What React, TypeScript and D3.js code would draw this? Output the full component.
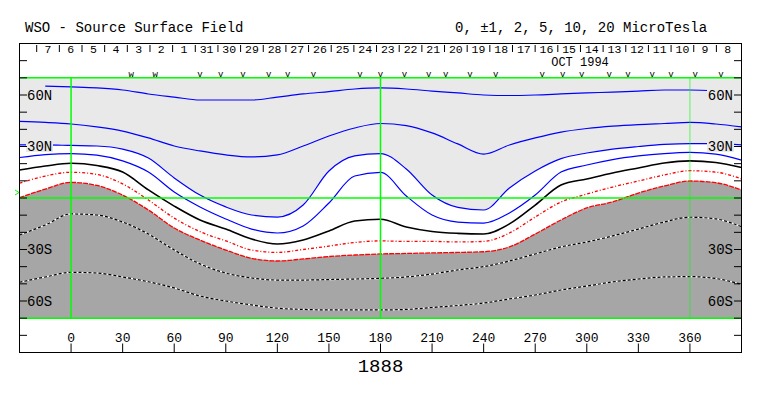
import React from 'react';
import * as d3 from 'd3';

// Carrington longitude samples (deg)
const lons = [-30, -15, 0, 15, 30, 45, 60, 75, 90, 105, 120, 135, 150, 165, 180, 195, 210, 225, 240, 255, 270, 285, 300, 315, 330, 345, 360, 375, 390];

// contour latitudes (deg)
const blue20: (number | null)[] = [null, 65.2, 64.7, 64.1, 62.9, 60.6, 58.8, 57.1, 57.1, 57.1, 58.8, 60.6, 62.0, 63.5, 64.1, 63.5, 62.3, 61.2, 60.0, 59.7, 60.0, 60.6, 61.2, 61.7, 62.3, 62.9, 62.9, 62.3, null];
const blue10 = [44.6, 44.0, 43.1, 41.4, 39.0, 35.0, 30.3, 27.4, 25.1, 23.9, 25.1, 30.3, 36.1, 40.8, 43.4, 42.2, 37.9, 31.5, 25.6, 30.9, 35.0, 38.4, 40.5, 41.9, 42.8, 43.4, 44.0, 43.1, 41.4];
const blue5 = [30.9, 30.9, 30.6, 30.3, 28.5, 23.3, 11.7, 1.7, -5.2, -9.9, -11.1, -4.1, 15.7, 24.5, 25.9, 16.9, 1.7, -5.5, -7.0, 5.8, 15.7, 22.9, 26.2, 28.5, 30.0, 31.2, 31.7, 31.7, 30.9];
const blue2 = [23.6, 25.3, 25.9, 25.0, 21.6, 15.1, 3.5, -5.2, -12.2, -18.1, -20.4, -16.3, -2.9, 12.8, 14.9, 1.2, -9.9, -14.0, -14.6, -8.7, 1.7, 15.1, 19.2, 22.4, 24.5, 25.9, 26.6, 25.6, 22.1];
const neutral = [16.3, 18.6, 20.2, 18.9, 15.1, 4.7, -4.7, -12.8, -18.1, -23.9, -26.8, -24.5, -19.2, -13.4, -12.4, -16.9, -19.5, -20.6, -21.0, -15.1, -4.1, 7.6, 11.1, 14.6, 17.5, 20.4, 21.6, 20.7, 17.8];
const red1 = [8.6, 12.8, 15.0, 13.7, 8.2, -1.2, -11.7, -19.6, -25.0, -30.3, -31.7, -30.0, -28.0, -25.9, -25.0, -25.3, -25.3, -25.6, -25.3, -20.4, -11.1, -2.3, 2.3, 6.4, 9.9, 13.4, 15.9, 15.1, 11.1];
const red2 = [0.2, 5.2, 9.1, 7.3, 1.7, -7.0, -17.5, -24.5, -30.3, -35.1, -36.7, -35.5, -34.1, -33.2, -32.6, -32.3, -32.0, -31.7, -31.3, -28.5, -21.0, -12.8, -5.8, -2.3, 2.9, 7.0, 9.9, 8.9, 4.7];
const neg10 = [-21.6, -15.7, -9.3, -9.9, -14.0, -21.0, -30.3, -38.4, -43.7, -46.6, -47.8, -47.8, -47.5, -47.2, -46.8, -46.0, -44.3, -41.9, -40.0, -36.7, -32.6, -28.5, -25.6, -22.1, -18.1, -14.0, -11.2, -12.2, -16.7];
const neg20 = [-49.1, -46.0, -43.3, -43.7, -46.0, -48.8, -52.4, -57.1, -60.0, -62.3, -64.2, -64.9, -65.2, -65.2, -65.2, -64.9, -63.8, -62.6, -61.2, -58.8, -56.5, -53.6, -51.3, -48.9, -47.2, -46.0, -45.8, -46.9, -50.3];

const xTicks = [0, 30, 60, 90, 120, 150, 180, 210, 240, 270, 300, 330, 360];
const latTicks = [-80, -70, -60, -50, -40, -30, -20, -10, 0, 10, 20, 30, 40, 50, 60, 70, 80];
const latLabels = [
  { lat: 60, text: '60N' },
  { lat: 30, text: '30N' },
  { lat: -30, text: '30S' },
  { lat: -60, text: '60S' },
];
const dayLabels = ['7', '6', '5', '4', '3', '2', '1', '31', '30', '29', '28', '27', '26', '25', '24', '23', '22', '21', '20', '19', '18', '17', '16', '15', '14', '13', '12', '11', '10', '9', '8'];
const dayStartLon = -20.0;
const dayStepLon = 13.18;
const wMarks = [35, 49];
const vMarks = [75, 87, 100, 115, 126, 141, 168, 180, 194, 208, 218, 232, 247, 274, 286, 297, 313, 324, 338, 349, 363, 378];

const FONT = '"Liberation Mono", "DejaVu Sans Mono", monospace';

export default function App() {
  const x = d3.scaleLinear().domain([-30, 390]).range([19.5, 741.5]);
  const y = d3.scaleLinear().domain([90, -90]).range([43.5, 352.5]);
  const curve = d3.curveMonotoneX;

  const mk = (vals: (number | null)[]) =>
    lons.map((l, i) => [l, vals[i]] as [number, number | null]);

  const line = d3
    .line<[number, number | null]>()
    .defined((d) => d[1] != null)
    .x((d) => x(d[0]))
    .y((d) => y(d[1] as number))
    .curve(curve);

  const areaBelow = d3
    .area<[number, number | null]>()
    .x((d) => x(d[0]))
    .y0(y(-70))
    .y1((d) => y(d[1] as number))
    .curve(curve);

  const px0 = x(-30), px1 = x(390);
  const pyTop = y(70), pyBot = y(-70);
  const green = '#00ff00';

  return (
    <svg width={763} height={396} style={{ position: 'absolute', left: 0, top: 0, background: '#fff' }}>
      <defs>
        <clipPath id="plot">
          <rect x={px0} y={pyTop} width={px1 - px0} height={pyBot - pyTop} />
        </clipPath>
      </defs>
      <rect x={0} y={0} width={763} height={396} fill="#fff" />
      {/* titles */}
      <text x={25} y={32} fontFamily={FONT} fontSize={14} fill="#000">WSO - Source Surface Field</text>
      <text x={455} y={32} fontFamily={FONT} fontSize={14} fill="#000">0, ±1, 2, 5, 10, 20 MicroTesla</text>

      {/* plot backgrounds */}
      <g clipPath="url(#plot)">
        <rect x={px0} y={pyTop} width={px1 - px0} height={pyBot - pyTop} fill="#e9e9e9" />
        <path d={areaBelow(mk(blue5)) || ''} fill="#ffffff" />
        <path d={areaBelow(mk(red2)) || ''} fill="#a6a6a6" />

        <path d={line(mk(blue20)) || ''} fill="none" stroke="#0000ff" strokeWidth={1.2} />
        <path d={line(mk(blue10)) || ''} fill="none" stroke="#0000ff" strokeWidth={1.2} />
        <path d={line(mk(blue5)) || ''} fill="none" stroke="#0000ff" strokeWidth={1.2} />
        <path d={line(mk(blue2)) || ''} fill="none" stroke="#0000ff" strokeWidth={1.2} />
        <path d={line(mk(neutral)) || ''} fill="none" stroke="#000" strokeWidth={1.6} />
        <path d={line(mk(red1)) || ''} fill="none" stroke="#ff0000" strokeWidth={1.3} strokeDasharray="3,2,1,2" />
        <path d={line(mk(red2)) || ''} fill="none" stroke="#ff0000" strokeWidth={1.3} strokeDasharray="5,1" />
        <path d={line(mk(neg10)) || ''} fill="none" stroke="#fff" strokeWidth={1.2} />
        <path d={line(mk(neg10)) || ''} fill="none" stroke="#000" strokeWidth={1.2} strokeDasharray="3,2" />
        <path d={line(mk(neg20)) || ''} fill="none" stroke="#fff" strokeWidth={1.2} />
        <path d={line(mk(neg20)) || ''} fill="none" stroke="#000" strokeWidth={1.2} strokeDasharray="3,2" />

        {/* green grid */}
        <line x1={px0} x2={px1} y1={y(0)} y2={y(0)} stroke={green} strokeWidth={1.5} />
        <line x1={x(0)} x2={x(0)} y1={pyTop} y2={pyBot} stroke={green} strokeWidth={1.5} />
        <line x1={x(180)} x2={x(180)} y1={pyTop} y2={pyBot} stroke={green} strokeWidth={1.5} />
        <line x1={x(360)} x2={x(360)} y1={pyTop} y2={pyBot} stroke={green} strokeWidth={1} opacity={0.6} />
      </g>
      <line x1={px0} x2={px1} y1={pyTop} y2={pyTop} stroke={green} strokeWidth={1.5} />
      <line x1={px0} x2={px1} y1={pyBot} y2={pyBot} stroke={green} strokeWidth={1.5} />

      {/* latitude labels with backgrounds */}
      {latLabels.map((d) => (
        <g key={'l' + d.text}>
          {d.lat > 0 && <rect x={26} y={y(d.lat) - 5.5} width={27} height={11} fill="#e9e9e9" />}
          {d.lat > 0 && <rect x={707} y={y(d.lat) - 5.5} width={27} height={11} fill="#e9e9e9" />}
          <text x={27} y={y(d.lat) + 4.5} fontFamily={FONT} fontSize={14} fill="#000">{d.text}</text>
          <text x={733} y={y(d.lat) + 4.5} fontFamily={FONT} fontSize={14} fill="#000" textAnchor="end">{d.text}</text>
        </g>
      ))}

      {/* latitude ticks */}
      {latTicks.map((t) => (
        <g key={'t' + t}>
          <line x1={19.5} x2={27} y1={y(t)} y2={y(t)} stroke="#000" strokeWidth={1} />
          <line x1={734} x2={741.5} y1={y(t)} y2={y(t)} stroke="#000" strokeWidth={1} />
        </g>
      ))}

      {/* frame */}
      <rect x={19.5} y={43.5} width={722} height={309} fill="none" stroke="#000" strokeWidth={1} />

      {/* day strip */}
      {dayLabels.map((d, i) => {
        const l0 = dayStartLon + i * dayStepLon;
        const l1 = l0 + dayStepLon;
        return (
          <g key={'d' + i}>
            <line x1={x(l0)} x2={x(l0)} y1={45} y2={52} stroke="#000" strokeWidth={1} />
            <text x={(x(l0) + x(l1)) / 2} y={53} fontFamily={FONT} fontSize={11.5} textAnchor="middle" fill="#000">{d}</text>
          </g>
        );
      })}
      <text x={580} y={65.5} fontFamily={FONT} fontSize={12} textAnchor="middle" fill="#000">OCT 1994</text>
      {vMarks.map((m) => (
        <text key={'v' + m} x={x(m)} y={77} fontFamily={FONT} fontSize={9} textAnchor="middle" fill="#000">v</text>
      ))}
      {wMarks.map((m) => (
        <text key={'w' + m} x={x(m)} y={77} fontFamily={FONT} fontSize={9} textAnchor="middle" fill="#000">w</text>
      ))}

      {/* equator marker */}
      <path d={`M15,${y(0) - 8} L19,${y(0) - 5.5} L15,${y(0) - 3}`} fill="none" stroke={green} strokeWidth={1} />

      {/* longitude axis */}
      {xTicks.map((t) => (
        <g key={'x' + t}>
          <line x1={x(t)} x2={x(t)} y1={343.5} y2={352.5} stroke="#000" strokeWidth={1} />
          <text x={x(t)} y={342} fontFamily={FONT} fontSize={13} textAnchor="middle" fill="#000">{t}</text>
        </g>
      ))}
      <text x={x(180)} y={372} fontFamily={FONT} fontSize={19} textAnchor="middle" fill="#000">1888</text>
    </svg>
  );
}
